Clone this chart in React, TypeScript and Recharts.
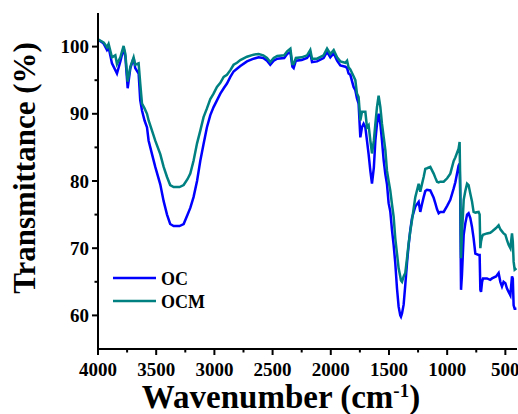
import React from "react";
import { LineChart, Line, XAxis, YAxis } from "recharts";

const wavenumbers = [
  4000, 3970, 3950, 3923, 3909, 3880, 3851, 3837, 3808, 3780, 3765, 3745, 3722, 3694, 3680, 3651,
  3637, 3622, 3600, 3579, 3565, 3536, 3508, 3465, 3436, 3407, 3380, 3350, 3300, 3264, 3230, 3207,
  3179, 3149, 3121, 3093, 3064, 3035, 3007, 2978, 2949, 2920, 2892, 2863, 2835, 2806, 2777, 2720,
  2663, 2620, 2580, 2548, 2520, 2490, 2460, 2400, 2375, 2347, 2330, 2319, 2300, 2250, 2204, 2176,
  2161, 2118, 2062, 2032, 2004, 1975, 1946, 1918, 1875, 1860, 1847, 1832, 1804, 1789, 1775, 1761,
  1746, 1732, 1718, 1703, 1689, 1675, 1660, 1646, 1630, 1617, 1603, 1589, 1574, 1560, 1545, 1531,
  1517, 1503, 1489, 1474, 1460, 1446, 1431, 1417, 1403, 1397, 1388, 1374, 1360, 1345, 1331, 1317,
  1302, 1274, 1245, 1231, 1217, 1202, 1188, 1173, 1145, 1116, 1102, 1087, 1073, 1059, 1030, 1000,
  973, 944, 930, 902, 893, 888, 881, 873, 858, 844, 829, 816, 801, 787, 773, 758,
  730, 721, 715, 709, 700, 692, 658, 630, 615, 580, 558, 543, 529, 515, 500, 486,
  472, 457, 443, 436, 429, 420, 405,
];

const ocValues = [
  101.0, 100.7, 100.4, 99.5, 99.9, 97.5, 96.5, 96.0, 97.8, 99.8, 98.5, 93.8, 96.8, 98.3, 96.8, 96.0,
  92.0, 90.5, 89.0, 88.0, 86.0, 84.0, 82.1, 79.5, 77.0, 75.0, 73.6, 73.3, 73.3, 73.6, 75.0, 76.0,
  77.6, 80.0, 83.0, 85.5, 88.0, 89.8, 91.0, 92.0, 93.0, 93.8, 94.5, 95.5, 96.3, 96.7, 97.1, 97.8,
  98.2, 98.4, 98.3, 97.9, 97.3, 97.9, 98.2, 98.3, 98.9, 99.2, 97.0, 96.8, 97.9, 98.0, 98.3, 99.0,
  97.7, 97.8, 98.3, 99.2, 98.4, 99.0, 97.9, 97.2, 97.0, 96.8, 96.0, 95.8, 94.0, 93.5, 92.3, 91.5,
  86.5, 88.0, 88.5, 88.0, 86.0, 84.0, 81.5, 79.6, 82.0, 86.0, 88.5, 90.0, 88.5, 86.0, 83.0, 81.0,
  79.5, 76.7, 75.5, 72.7, 70.5, 67.8, 64.0, 61.3, 60.0, 59.8, 60.3, 61.6, 64.5, 67.8, 70.5, 72.7,
  74.5, 76.2, 76.9, 75.4, 76.5, 77.6, 78.5, 78.7, 78.6, 77.5, 76.7, 75.8, 75.2, 75.4, 75.4, 76.3,
  77.2, 78.9, 79.8, 82.3, 82.6, 78.0, 63.8, 66.0, 72.0, 73.7, 75.0, 75.2, 74.5, 73.2, 71.5, 69.2,
  69.0, 69.0, 63.8, 63.5, 65.0, 65.5, 65.5, 65.3, 65.5, 65.8, 66.3, 65.0, 64.3, 65.0, 64.8, 64.0,
  63.5, 63.0, 65.8, 65.5, 61.5, 61.0, 61.0,
];

const ocmValues = [
  101.1, 100.8, 100.6, 99.9, 100.4, 98.4, 98.7, 97.4, 98.4, 100.1, 98.9, 94.8, 97.0, 98.4, 97.3, 97.5,
  94.5, 91.5, 90.8, 90.0, 89.0, 87.5, 86.0, 84.0, 82.1, 80.6, 79.4, 79.1, 79.1, 79.4, 80.3, 81.1,
  83.0, 85.6, 87.5, 89.5, 90.8, 92.2, 93.0, 94.0, 94.6, 95.5, 95.8, 96.5, 97.3, 97.6, 98.0, 98.5,
  98.8, 98.9, 98.7, 98.3, 97.7, 98.3, 98.6, 98.7, 99.3, 99.7, 97.4, 97.4, 98.3, 98.4, 98.7, 99.5,
  98.2, 98.2, 98.7, 99.7, 98.9, 99.5, 98.4, 97.8, 97.6, 97.9, 96.9, 96.6, 95.6, 95.0, 93.0, 92.5,
  89.0, 90.3, 90.3, 90.3, 88.0, 88.3, 86.0, 84.1, 86.0, 88.5, 91.0, 92.7, 91.0, 88.5, 86.5, 84.6,
  81.5, 80.0, 78.6, 76.5, 74.7, 71.5, 69.2, 67.0, 65.8, 65.2, 65.0, 65.8, 66.3, 68.5, 70.7, 72.5,
  74.2, 77.6, 79.6, 78.4, 79.5, 80.6, 81.8, 81.9, 82.1, 81.1, 80.5, 79.9, 79.8, 79.9, 79.9, 80.4,
  81.1, 83.0, 83.5, 84.8, 85.8, 80.0, 68.5, 72.0, 77.2, 78.5, 79.6, 79.4, 78.1, 77.0, 75.4, 75.3,
  75.4, 75.0, 70.0, 71.0, 71.7, 72.0, 72.2, 72.3, 72.5, 73.0, 73.4, 72.8, 72.5, 72.2, 72.0, 71.2,
  70.5, 70.0, 72.2, 71.0, 68.0, 66.8, 67.0,
];

const seriesNames = ["OC", "OCM"];
const seriesColors = ["#0000FF", "#008080"];

const xMajorTicks = [4000, 3500, 3000, 2500, 2000, 1500, 1000, 500];
const xMinorTicks = [3750, 3250, 2750, 2250, 1750, 1250, 750];
const yMajorTicks = [60, 70, 80, 90, 100];
const yMinorTicks = [65, 75, 85, 95];

const rows = wavenumbers.map((wn, i) => ({ wn, oc: ocValues[i], ocm: ocmValues[i] }));

const FONT = "'Liberation Serif', 'Times New Roman', serif";
const TICK_SIZE = 6;

const XTick = (props: any) => {
  const { x, y, payload } = props;
  const axisY = y - TICK_SIZE;
  const major = xMajorTicks.includes(payload.value);
  return (
    <g>
      <line x1={x} x2={x} y1={axisY} y2={axisY + (major ? 6 : 3.5)} stroke="#000" strokeWidth={2} />
      {major && (
        <text x={x} y={axisY + 27} textAnchor="middle" fontFamily={FONT} fontWeight="bold" fontSize={19} fill="#000">
          {payload.value}
        </text>
      )}
    </g>
  );
};

const YTick = (props: any) => {
  const { x, y, payload } = props;
  const axisX = x + TICK_SIZE;
  const major = yMajorTicks.includes(payload.value);
  return (
    <g>
      <line x1={axisX} x2={axisX - (major ? 6 : 3.5)} y1={y} y2={y} stroke="#000" strokeWidth={2} />
      {major && (
        <text x={axisX - 9} y={y + 6.5} textAnchor="end" fontFamily={FONT} fontWeight="bold" fontSize={19} fill="#000">
          {payload.value}
        </text>
      )}
    </g>
  );
};

export default function App() {
  return (
    <div style={{ position: "absolute", left: 0, top: 0, width: 518, height: 414, background: "#fff" }}>
      <LineChart width={518} height={414} data={rows} margin={{ top: 13, right: 1, bottom: 0, left: 0 }}>
        <XAxis
          dataKey="wn"
          type="number"
          domain={[400, 4000]}
          reversed
          allowDataOverflow
          ticks={[...xMajorTicks, ...xMinorTicks].sort((a, b) => b - a)}
          interval={0}
          tickSize={TICK_SIZE}
          tickMargin={0}
          tickLine={false}
          tick={<XTick />}
          height={65}
          axisLine={{ stroke: "#000", strokeWidth: 2 }}
        />
        <XAxis
          xAxisId="top"
          orientation="top"
          dataKey="wn"
          type="number"
          domain={[400, 4000]}
          reversed
          height={0}
          tick={false}
          tickLine={false}
          axisLine={{ stroke: "#000", strokeWidth: 2 }}
        />
        <YAxis
          type="number"
          domain={[55, 105]}
          allowDataOverflow
          ticks={[...yMajorTicks, ...yMinorTicks].sort((a, b) => a - b)}
          interval={0}
          tickSize={TICK_SIZE}
          tickMargin={0}
          tickLine={false}
          tick={<YTick />}
          width={98}
          axisLine={{ stroke: "#000", strokeWidth: 2 }}
        />
        <YAxis
          yAxisId="right"
          orientation="right"
          type="number"
          domain={[55, 105]}
          width={0}
          tick={false}
          tickLine={false}
          axisLine={{ stroke: "#000", strokeWidth: 2 }}
        />
        <Line dataKey="oc" name={seriesNames[0]} stroke={seriesColors[0]} strokeWidth={2.5} dot={false} isAnimationActive={false} type="linear" />
        <Line dataKey="ocm" name={seriesNames[1]} stroke={seriesColors[1]} strokeWidth={2.5} dot={false} isAnimationActive={false} type="linear" />
      </LineChart>
      <svg width={518} height={414} style={{ position: "absolute", left: 0, top: 0, pointerEvents: "none" }}>
        <text
          x={35}
          y={168}
          transform="rotate(-90, 35, 168)"
          textAnchor="middle"
          fontFamily={FONT}
          fontWeight="bold"
          fontSize={31}
          fill="#000"
        >
          Transmittance (%)
        </text>
        <text x={281} y={408} textAnchor="middle" fontFamily={FONT} fontWeight="bold" fontSize={33} fill="#000">
          Wavenumber (cm<tspan dy={-11} fontSize={19}>-1</tspan>
          <tspan dy={11}>)</tspan>
        </text>
        {seriesNames.map((name, i) => (
          <g key={name}>
            <line x1={113} x2={156} y1={278 + i * 23} y2={278 + i * 23} stroke={seriesColors[i]} strokeWidth={2.5} />
            <text x={161} y={284.5 + i * 23} fontFamily={FONT} fontWeight="bold" fontSize={18} fill="#000">
              {name}
            </text>
          </g>
        ))}
      </svg>
    </div>
  );
}
